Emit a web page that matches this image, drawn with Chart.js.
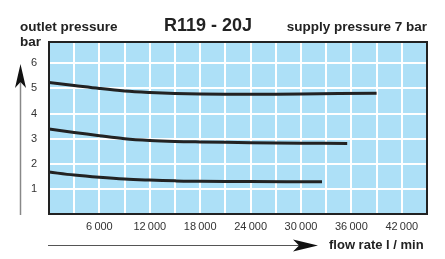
<!DOCTYPE html>
<html>
<head>
<meta charset="utf-8">
<script src="https://cdn.jsdelivr.net/npm/chart.js@4"></script>
<style>
  html, body { margin: 0; padding: 0; background: #fff; }
  #wrap { width: 445px; height: 259px; position: relative; }
</style>
</head>
<body>
<div id="wrap"><canvas id="chart" width="445" height="259"></canvas></div>
<script>
// flow rate l/min and outlet pressure bar
const flowHigh = [0, 3000, 6000, 9000, 12000, 15000, 18000, 24000, 30000, 39000];
const presHigh = [5.24, 5.12, 5.0, 4.9, 4.84, 4.8, 4.78, 4.77, 4.78, 4.81];
const flowMid = [0, 3000, 6000, 9000, 12000, 15000, 18000, 24000, 30000, 35500];
const presMid = [3.39, 3.25, 3.12, 3.0, 2.93, 2.89, 2.87, 2.84, 2.82, 2.81];
const flowLow = [0, 3000, 6000, 9000, 12000, 15000, 18000, 24000, 32500];
const presLow = [1.67, 1.55, 1.46, 1.39, 1.35, 1.32, 1.3, 1.29, 1.28];

const xLabels = [6000, 12000, 18000, 24000, 30000, 36000, 42000];
const yLabels = [1, 2, 3, 4, 5, 6];

const FONT = "'Liberation Sans', Arial, sans-serif";

function pts(xs, ys) {
  return xs.map((x, i) => ({ x: x, y: ys[i] }));
}

function lineSet(xs, ys) {
  return {
    data: pts(xs, ys),
    borderColor: '#222',
    borderWidth: 3,
    pointRadius: 0,
    tension: 0.35,
    fill: false
  };
}

// blue background, frame, arrows and texts
const decor = {
  id: 'decor',
  beforeDraw(chart) {
    const { ctx, chartArea: a } = chart;
    ctx.save();
    ctx.fillStyle = '#ade0f7';
    ctx.fillRect(a.left, a.top, a.right - a.left, a.bottom - a.top);
    ctx.restore();
  },
  afterDraw(chart) {
    const { ctx, chartArea: a } = chart;
    ctx.save();
    ctx.strokeStyle = '#222';
    ctx.lineWidth = 2;
    ctx.strokeRect(a.left, a.top, a.right - a.left, a.bottom - a.top);

    // vertical arrow
    ctx.strokeStyle = '#888';
    ctx.lineWidth = 1.5;
    ctx.beginPath();
    ctx.moveTo(20.5, 215);
    ctx.lineTo(20.5, 75);
    ctx.stroke();
    ctx.fillStyle = '#111';
    ctx.beginPath();
    ctx.moveTo(20.5, 64);
    ctx.lineTo(26, 88);
    ctx.lineTo(20.5, 82);
    ctx.lineTo(15, 88);
    ctx.closePath();
    ctx.fill();

    // horizontal arrow
    ctx.strokeStyle = '#555';
    ctx.lineWidth = 1.2;
    ctx.beginPath();
    ctx.moveTo(48, 245.5);
    ctx.lineTo(300, 245.5);
    ctx.stroke();
    ctx.beginPath();
    ctx.moveTo(318, 245.5);
    ctx.lineTo(293, 239.5);
    ctx.lineTo(299, 245.5);
    ctx.lineTo(293, 251.5);
    ctx.closePath();
    ctx.fill();

    ctx.fillStyle = '#222';
    ctx.textBaseline = 'middle';
    ctx.font = 'bold 13.5px ' + FONT;
    ctx.textAlign = 'left';
    ctx.fillText('outlet pressure', 20, 27);
    ctx.fillText('bar', 20, 42);
    ctx.font = 'bold 13px ' + FONT;
    ctx.fillText('flow rate l / min', 329, 245);
    ctx.font = 'bold 13.5px ' + FONT;
    ctx.textAlign = 'right';
    ctx.fillText('supply pressure 7 bar', 427, 27);
    ctx.textAlign = 'center';
    ctx.font = 'bold 18px ' + FONT;
    ctx.fillText('R119 - 20J', 208, 26);
    ctx.restore();
  }
};

new Chart(document.getElementById('chart'), {
  type: 'line',
  data: {
    datasets: [
      lineSet(flowHigh, presHigh),
      lineSet(flowMid, presMid),
      lineSet(flowLow, presLow)
    ]
  },
  options: {
    responsive: false,
    animation: false,
    layout: { padding: { left: 20, right: 18, top: 42, bottom: 0 } },
    plugins: { legend: { display: false }, tooltip: { enabled: false } },
    scales: {
      x: {
        type: 'linear',
        min: 0,
        max: 45000, // must be a whole multiple of the step, or Chart.js respaces the ticks
        afterFit: s => { s.height = 45; },
        border: { display: false },
        grid: { color: '#fff', lineWidth: 2, drawTicks: false },
        ticks: {
          stepSize: 3000,
          maxTicksLimit: 30,
          includeBounds: false,
          autoSkip: false,
          maxRotation: 0,
          padding: 6,
          color: '#333',
          font: { family: FONT, size: 11 },
          callback: v => xLabels.includes(v) ? String(v).replace(/(\d{3})$/, '\u202f$1') : ''
        }
      },
      y: {
        type: 'linear',
        min: 0,
        max: 6.85,
        afterFit: s => { s.width = 29; },
        border: { display: false },
        grid: { color: '#fff', lineWidth: 2, drawTicks: false },
        ticks: {
          stepSize: 1,
          includeBounds: false,
          padding: 12,
          color: '#333',
          font: { family: FONT, size: 11 },
          callback: v => yLabels.includes(v) ? String(v) : ''
        }
      }
    }
  },
  plugins: [decor]
});
</script>
</body>
</html>
